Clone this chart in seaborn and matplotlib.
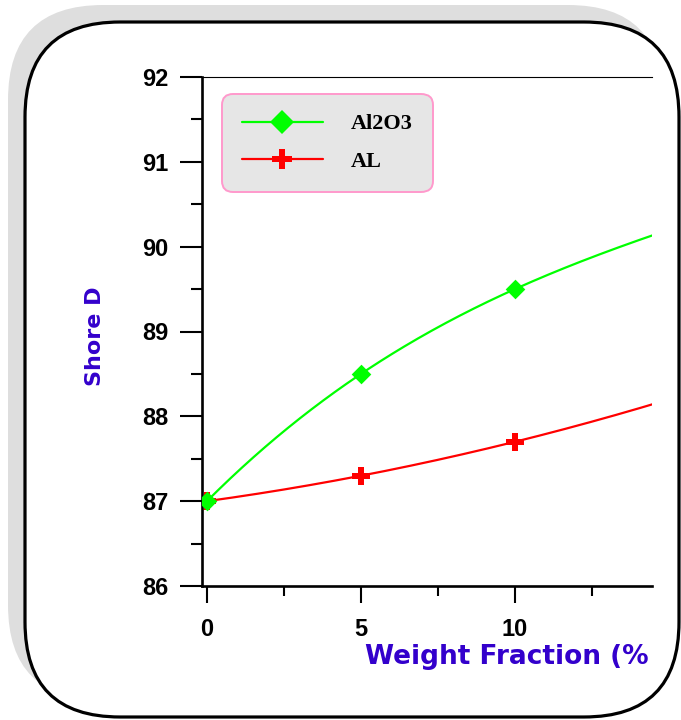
import numpy as np
import pandas as pd
import seaborn as sns
import matplotlib.pyplot as plt
from matplotlib.patches import FancyBboxPatch
from matplotlib.lines import Line2D
from matplotlib.ticker import MultipleLocator

# values (last point sits just past the clipped right edge)
weight_fraction = [0, 5, 10, 15]
shore_al2o3 = [87.0, 88.5, 89.5, 90.2]
shore_al = [87.0, 87.3, 87.7, 88.2]
series_names = ["Al2O3", "AL"]
series_colors = ["#00FF00", "#FF0000"]
y_ticks = [86, 87, 88, 89, 90, 91, 92]
x_ticks = [0, 5, 10]

sns.set_style("ticks")
plt.rcParams["font.family"] = ["Liberation Sans", "DejaVu Sans"]
plt.rcParams.update({"axes.edgecolor": "black", "xtick.color": "black",
                     "ytick.color": "black", "text.color": "black"})

fig = plt.figure(figsize=(6.81, 7.2), dpi=100)

# rounded frame with grey shadow behind the plot
shadow = FancyBboxPatch((0.08, 0.20), 6.55, 6.95, boxstyle="round,pad=0,rounding_size=0.95",
                        transform=fig.dpi_scale_trans, facecolor="#DEDEDE", edgecolor="none", zorder=-3)
frame = FancyBboxPatch((0.25, 0.03), 6.54, 6.95, boxstyle="round,pad=0,rounding_size=0.95",
                       transform=fig.dpi_scale_trans, facecolor="white", edgecolor="black",
                       linewidth=2.3, zorder=-2)
fig.add_artist(shadow)
fig.add_artist(frame)

ax = fig.add_axes([202 / 681, 134 / 720, 450 / 681, 509 / 720])
ax.set_facecolor("none")

# smooth connecting curves through the measured points (like Origin's spline connect)
x_fine = np.linspace(0, 15, 200)
for ys, name, col, mk, ms, z in [(shore_al, "AL", series_colors[1], "P", 13, 3),
                                 (shore_al2o3, "Al2O3", series_colors[0], "D", 10, 4)]:
    coef = np.polyfit(weight_fraction, ys, 3)
    curve = pd.DataFrame({"x": x_fine, "y": np.polyval(coef, x_fine)})
    sns.lineplot(data=curve, x="x", y="y", color=col, linewidth=1.6, ax=ax, zorder=z)
    pts = pd.DataFrame({"x": weight_fraction, "y": ys})
    sns.scatterplot(data=pts, x="x", y="y", marker=mk, s=ms ** 2, color=col,
                    edgecolor=col, linewidth=0, ax=ax, zorder=z + 0.5, clip_on=True)

ax.set_xlim(-0.16, 14.45)
ax.set_ylim(86, 92)
ax.set_xticks(x_ticks)
ax.set_yticks(y_ticks)
ax.xaxis.set_minor_locator(MultipleLocator(2.5))
ax.yaxis.set_minor_locator(MultipleLocator(0.5))

ax.spines["right"].set_visible(False)
ax.spines["left"].set_linewidth(1.9)
ax.spines["bottom"].set_linewidth(1.9)
ax.spines["top"].set_linewidth(0.8)

ax.tick_params(axis="y", which="major", direction="out", length=16, width=1.5, pad=8)
ax.tick_params(axis="y", which="minor", direction="out", length=8, width=1.5)
ax.tick_params(axis="x", which="major", direction="out", length=12, width=1.5, pad=11)
ax.tick_params(axis="x", which="minor", direction="out", length=7, width=1.5)
ax.tick_params(top=False, right=False, which="both", colors="black")
for lab in ax.get_xticklabels() + ax.get_yticklabels():
    lab.set_fontsize(17)
    lab.set_fontweight("bold")
    lab.set_color("black")
    lab.set_fontfamily(["Liberation Sans", "DejaVu Sans"])

label_color = "#3300CC"
ax.set_xlabel("Weight Fraction (%", fontsize=19, fontweight="bold", color=label_color,
              family=["DejaVu Sans"], ha="left", va="baseline")
ax.xaxis.set_label_coords(0.362, -0.153)
ax.set_ylabel("Shore D", fontsize=16, fontweight="bold", color=label_color,
              family=["DejaVu Sans"], va="center")
ax.yaxis.set_label_coords(-0.238, 0.491)

handles = [Line2D([], [], color=series_colors[0], lw=1.6, marker="D", markersize=12,
                  markeredgewidth=0),
           Line2D([], [], color=series_colors[1], lw=1.6, marker="P", markersize=15,
                  markeredgewidth=0)]
leg = ax.legend(handles, series_names, loc="upper left", bbox_to_anchor=(0.044, 0.967),
                borderaxespad=0, frameon=True, fancybox=True, handlelength=3.65,
                handletextpad=1.25, borderpad=0.9, labelspacing=0.78,
                prop={"family": "Liberation Serif", "weight": "bold", "size": 16})
for t in leg.get_texts():
    t.set_color("black")
fr = leg.get_frame()
fr.set_facecolor("#E6E6E6")
fr.set_edgecolor("#FF99CC")
fr.set_linewidth(1.4)
fr.set_alpha(1)
fr.set_boxstyle("round,pad=0,rounding_size=0.5")

fig.savefig("out.png", dpi=100)
